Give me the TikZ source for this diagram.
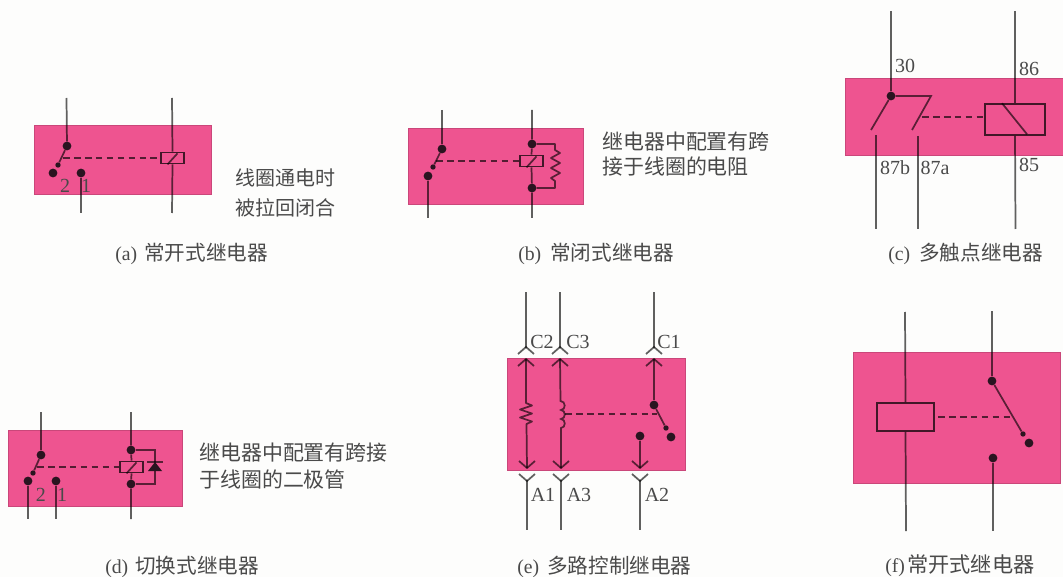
\documentclass[tikz,border=0pt]{standalone}
\usepackage{fontspec}
\setmainfont{Liberation Serif}
\newfontfamily\cjkf{Noto Sans CJK SC}[Scale=1]
\definecolor{relaypink}{HTML}{EE5490}
\definecolor{paperbg}{HTML}{FDFDFC}
\definecolor{inkgray}{HTML}{4A4A4A}
\definecolor{dotdark}{HTML}{2A1420}
\newcommand{\capline}[4][15.45pt]{\makebox[#2][l]{\fontsize{14.8pt}{16pt}\selectfont (#3)}{\cjkf\fontsize{#1}{17pt}\selectfont #4}}
\tikzset{
  x=0.75pt,y=-0.75pt,
  panel/.style={fill=relaypink,draw=relaypink!85!black,line width=0.3pt},
  wire/.style={draw=black,draw opacity=.62,line width=1.3pt},
  ctrl/.style={draw=black,draw opacity=.65,line width=1.2pt,dash pattern=on 5pt off 3.2pt},
  jdot/.style={circle,fill=dotdark,inner sep=0pt,minimum size=6.6pt},
  tipdot/.style={circle,fill=dotdark,inner sep=0pt,minimum size=4pt},
  coilbox/.style={rectangle,draw=black,draw opacity=.72,line width=1.2pt,inner sep=0pt,minimum width=17.2pt,minimum height=8.4pt},
  lab/.style={inner sep=0pt,text=inkgray,font=\fontsize{15pt}{17pt}\selectfont},
  capt/.style={inner sep=0pt,text=inkgray,anchor=west},
  note/.style={inner sep=0pt,text=inkgray,anchor=west,font=\cjkf\fontsize{15.7pt}{18pt}\selectfont},
}
\newcommand{\forkup}[2]{\draw[wire] (#1,#2) ++(-8,7) -- ++(8,-7) -- ++(8,7);}
\newcommand{\forkdown}[2]{\draw[wire] (#1,#2) ++(-8,-7) -- ++(8,7) -- ++(8,-7);}
\begin{document}
\begin{tikzpicture}
\useasboundingbox (0,0) rectangle (1063,577);
\fill[paperbg] (0,0) rectangle (1063,577);
% ---------- panels
\fill[panel] (34,125) rectangle (211,194);
\fill[panel] (408,128) rectangle (583,204);
\fill[panel] (845,78) rectangle (1063,155);
\fill[panel] (8,430) rectangle (182,506);
\fill[panel] (507,358) rectangle (685,470);
\fill[panel] (853,352) rectangle (1060,483);
% ---------- (a)
\coordinate (aT1) at (66.5,98); \coordinate (aT2) at (172,98);
\coordinate (aB1) at (81,213); \coordinate (aB2) at (172,213);
\coordinate (aD) at (63,158);
\node[jdot] (aP) at (67,146) {};
\node[jdot] (aN) at (53,173) {};
\node[jdot] (aM) at (81,173) {};
\node[tipdot] (aS) at (58,165) {};
\node[coilbox] (aC) at (172.5,158) {};
\draw[wire] (aT1) -- (aP);
\draw[wire] (aP) -- (aS);
\draw[wire] (aM) -- (aB1);
\draw[wire] (aT2) -- (aC.north);
\draw[wire] (aC.south) -- (aB2);
\draw[wire] (aC.south) ++(-5,0) -- ++(10,-11);
\draw[ctrl] (aD) -- (aC.west);
\node[lab] (a2) at (65,186) {2};
\node[lab] (a1) at (86,186) {1};
\node[note,font=\cjkf\fontsize{15pt}{18pt}\selectfont] (aN1) at (235,178) {线圈通电时};
\node[note,font=\cjkf\fontsize{15pt}{18pt}\selectfont] (aN2) at (235,208) {被拉回闭合};
\node[capt] (aCap) at (115,254) {\capline{21.75pt}{a}{常开式继电器}};
% ---------- (b)
\coordinate (bT1) at (442,110); \coordinate (bT2) at (532,110);
\coordinate (bB1) at (428,218); \coordinate (bB2) at (532,218);
\coordinate (bD) at (436,161);
\node[jdot] (bP) at (442,149) {};
\node[jdot] (bN) at (428,176) {};
\node[tipdot] (bS) at (433,167) {};
\node[jdot] (bU) at (532,144) {};
\node[jdot] (bL) at (532,188) {};
\node[coilbox] (bC) at (531.5,161) {};
\draw[wire] (bT1) -- (bP);
\draw[wire] (bP) -- (bS);
\draw[wire] (bN) -- (bB1);
\draw[wire] (bT2) -- (bU) -- (bC.north);
\draw[wire] (bC.south) -- (bL) -- (bB2);
\draw[wire] (bC.south) ++(-5,0) -- ++(10,-11);
\draw[ctrl] (bD) -- (bC.west);
\draw[wire,line join=round] (bU) -- (555,144) -- (555,150) -- ++(5,3) -- ++(-9,5) -- ++(9,5) -- ++(-9,5) -- ++(9,5) -- ++(-9,5) -- ++(4,3) -- (555,188) -- (bL);
\node[note] (bN1) at (602,142) {继电器中配置有跨};
\node[note] (bN2) at (602,167) {接于线圈的电阻};
\node[capt] (bCap) at (518,254) {\capline{24pt}{b}{常闭式继电器}};
% ---------- (c)
\coordinate (cT1) at (891,11); \coordinate (cT2) at (1015,11);
\coordinate (cB1) at (876,229); \coordinate (cB2) at (918,229); \coordinate (cB3) at (1015.5,229);
\coordinate (cS1) at (876,135); \coordinate (cS2) at (918,136);
\coordinate (cE1) at (871,130); \coordinate (cE2) at (912,130);
\coordinate (cK) at (931,96); \coordinate (cD) at (922,117);
\node[jdot] (cP) at (891,96) {};
\node[coilbox,minimum width=45pt,minimum height=23.2pt] (cC) at (1015,119.5) {};
\draw[wire] (cT1) -- (cP);
\draw[wire] (cP) -- (cE1);
\draw[wire] (cP) -- (cK) -- (cE2);
\draw[wire] (cS1) -- (cB1);
\draw[wire] (cS2) -- (cB2);
\draw[wire] (cT2) -- (cC.north);
\draw[wire] (cC.south) -- (cB3);
\draw[wire] (cC.north) ++(-13,0) -- ++(25,31);
\draw[ctrl] (cD) -- (cD -| cC.west);
\node[lab] (c30) at (905,66) {30};
\node[lab] (c86) at (1029,69) {86};
\node[lab] (c85) at (1029,165) {85};
\node[lab] (c87b) at (895,168) {87b};
\node[lab] (c87a) at (935,168) {87a};
\node[capt] (cCap) at (888,254) {\capline{23.25pt}{c}{多触点继电器}};
% ---------- (d)
\coordinate (dT1) at (41,412); \coordinate (dT2) at (131,412);
\coordinate (dB1) at (28,519); \coordinate (dB2) at (56,519); \coordinate (dB3) at (131,519);
\coordinate (dD) at (37,467);
\node[jdot] (dP) at (41,455) {};
\node[jdot] (dN) at (28,481) {};
\node[jdot] (dM) at (56,481) {};
\node[tipdot] (dS) at (33,473) {};
\node[jdot] (dU) at (131,450) {};
\node[jdot] (dL) at (131,484) {};
\node[coilbox] (dC) at (131.5,467) {};
\draw[wire] (dT1) -- (dP);
\draw[wire] (dP) -- (dS);
\draw[wire] (dN) -- (dB1);
\draw[wire] (dM) -- (dB2);
\draw[wire] (dT2) -- (dU) -- (dC.north);
\draw[wire] (dC.south) -- (dL) -- (dB3);
\draw[wire] (dC.south) ++(-5,0) -- ++(10,-11);
\draw[ctrl] (dD) -- (dC.west);
\draw[wire] (dU) -- (155,450) -- (155,484) -- (dL);
\draw[wire] (147,462) -- (163,462);
\fill[dotdark] (155,462) -- (148,471) -- (162,471) -- cycle;
\node[lab] (d2) at (41,495) {2};
\node[lab] (d1) at (62,495) {1};
\node[note] (dN1) at (199,453) {继电器中配置有跨接};
\node[note] (dN2) at (199,480) {于线圈的二极管};
\node[capt] (dCap) at (105,567) {\capline{22.5pt}{d}{切换式继电器}};
% ---------- (e)
\coordinate (eT1) at (526,292); \coordinate (eT2) at (560,292); \coordinate (eT3) at (654,292);
\coordinate (eJ1) at (526,348); \coordinate (eJ2) at (560,348); \coordinate (eJ3) at (654,348);
\coordinate (eI1) at (526,359); \coordinate (eI2) at (560,359); \coordinate (eI3) at (654,359);
\coordinate (eO1) at (527,468); \coordinate (eO2) at (561,468); \coordinate (eO3) at (640,468);
\coordinate (eQ1) at (527,480); \coordinate (eQ2) at (561,480); \coordinate (eQ3) at (640,480);
\coordinate (eB1) at (527,530); \coordinate (eB2) at (561,530); \coordinate (eB3) at (640,530);
\coordinate (eD1) at (565,414); \coordinate (eD2) at (657,414);
\node[jdot] (eP) at (654,405) {};
\node[jdot] (eN) at (671,437) {};
\node[jdot] (eM) at (640,436) {};
\node[tipdot] (eS) at (666,428) {};
\draw[wire] (eT1) -- (eJ1); \draw[wire] (eT2) -- (eJ2); \draw[wire] (eT3) -- (eJ3);
\draw[wire] (eQ1) -- (eB1); \draw[wire] (eQ2) -- (eB2); \draw[wire] (eQ3) -- (eB3);
\forkup{526}{347}\forkup{560}{347}\forkup{654}{347}
\forkup{526}{359}\forkup{560}{359}\forkup{654}{359}
\forkdown{527}{468}\forkdown{561}{468}\forkdown{640}{468}
\forkdown{527}{481}\forkdown{561}{481}\forkdown{640}{481}
\draw[wire,line join=round] (eI1) -- (526,403) -- ++(6,2.5) -- ++(-12,4) -- ++(12,4) -- ++(-12,4) -- ++(12,4) -- ++(-5.5,2.5) -- (eO1);
\draw[wire] (eI2) -- (560.5,401) .. controls (566,401) and (566,410) .. (561,410) .. controls (566,410) and (566,419) .. (561,419) .. controls (566,419) and (566,428) .. (561,428) -- (eO2);
\draw[wire] (eI3) -- (eP);
\draw[wire] (eP) -- (eS);
\draw[wire] (eM) -- (eO3);
\draw[ctrl] (eD1) -- (eD2);
\node[lab] (eC2) at (542,342) {C2};
\node[lab] (eC3) at (578,342) {C3};
\node[lab] (eC1) at (669,342) {C1};
\node[lab] (eA1) at (543,495) {A1};
\node[lab] (eA3) at (579,495) {A3};
\node[lab] (eA2) at (657,495) {A2};
\node[capt] (eCap) at (517,567) {\capline{22.5pt}{e}{多路控制继电器}};
% ---------- (f)
\coordinate (fT1) at (905,312); \coordinate (fT2) at (992,311);
\coordinate (fB1) at (906,531); \coordinate (fB2) at (993,531);
\coordinate (fD) at (938,417); \coordinate (fE) at (1012,417);
\node[jdot] (fP) at (992,381) {};
\node[jdot] (fN) at (1029,443) {};
\node[jdot] (fM) at (993,458) {};
\node[tipdot] (fS) at (1023,434) {};
\node[coilbox,minimum width=42.7pt,minimum height=21pt] (fC) at (905.5,417) {};
\draw[wire] (fT1) -- (fC.north);
\draw[wire] (fC.south) -- (fB1);
\draw[wire] (fT2) -- (fP);
\draw[wire] (fP) -- (fS);
\draw[wire] (fM) -- (fB2);
\draw[ctrl] (fD) -- (fE);
\node[capt] (fCap) at (885,566) {\capline[15.9pt]{16.5pt}{f}{常开式继电器}};
\end{tikzpicture}
\end{document}
